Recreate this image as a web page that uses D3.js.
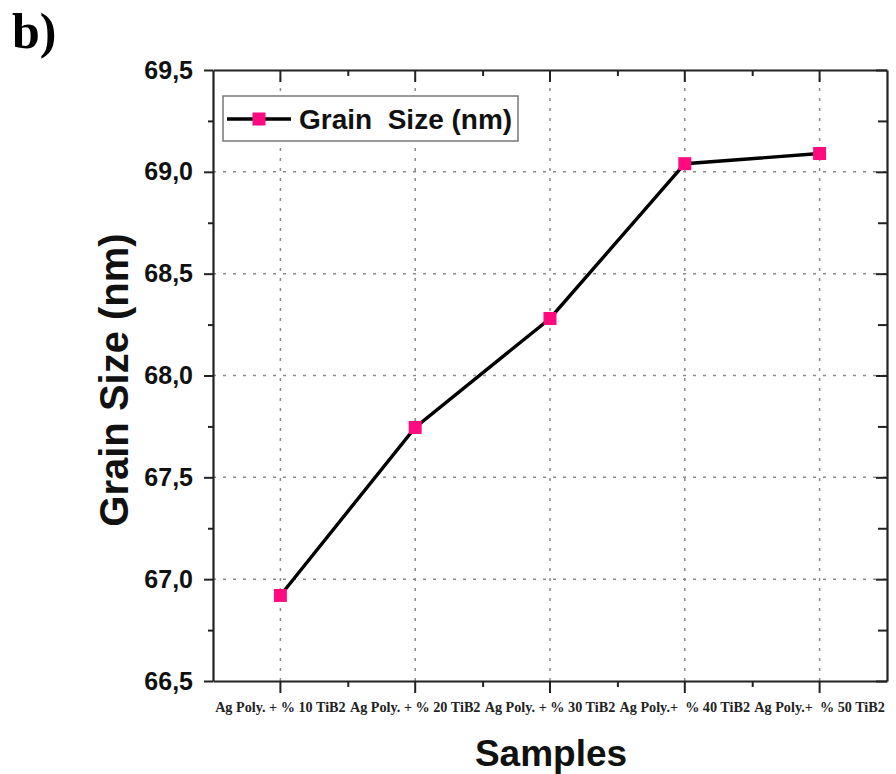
<!DOCTYPE html>
<html>
<head>
<meta charset="utf-8">
<script src="https://cdn.jsdelivr.net/npm/d3@7"></script>
<style>
  body { margin: 0; background: #fff; }
  svg { display: block; }
</style>
</head>
<body>
<svg id="chart"></svg>
<script>
// data
const samples = ["Ag Poly. + % 10 TiB2", "Ag Poly. + % 20 TiB2", "Ag Poly. + % 30 TiB2", "Ag Poly.+  % 40 TiB2", "Ag Poly.+  % 50 TiB2"];
const grainSize = [66.92, 67.745, 68.28, 69.04, 69.09];
const yTicks = [66.5, 67.0, 67.5, 68.0, 68.5, 69.0, 69.5];

const width = 896, height = 774;
const plotL = 213, plotR = 887, plotT = 70, plotB = 681;

const svg = d3.select("#chart").attr("width", width).attr("height", height);

const x = d3.scaleBand().domain(samples).range([plotL, plotR]);
const xc = d => x(d) + x.bandwidth() / 2;
const y = d3.scaleLinear().domain([66.5, 69.5]).range([plotB, plotT]);

const fmt = d => d3.format(".1f")(d).replace(".", ",");
const yMinor = yTicks.slice(0, -1).map(d => d + 0.25);
const xMinor = samples.slice(1).map(d => x(d));

// dotted grid
const grid = svg.append("g").attr("stroke", "#8a8a8a").attr("stroke-width", 1.5)
    .attr("stroke-dasharray", "3,7");
grid.selectAll(".gx").data(samples).enter().append("line")
    .attr("x1", xc).attr("x2", xc).attr("y1", plotB).attr("y2", plotT);
grid.selectAll(".gy").data(yTicks.slice(1, -1)).enter().append("line")
    .attr("x1", plotL).attr("x2", plotR).attr("y1", y).attr("y2", y);

// minor ticks (no domain line)
const minor = [
    svg.append("g").attr("transform", `translate(0,${plotB})`)
        .call(d3.axisBottom(d3.scaleIdentity()).tickValues(xMinor).tickSize(6).tickFormat("")),
    svg.append("g").attr("transform", `translate(0,${plotT})`)
        .call(d3.axisTop(d3.scaleIdentity()).tickValues(xMinor).tickSize(-6).tickFormat("")),
    svg.append("g").attr("transform", `translate(${plotL},0)`)
        .call(d3.axisLeft(y).tickValues(yMinor).tickSize(5).tickFormat("")),
    svg.append("g").attr("transform", `translate(${plotR},0)`)
        .call(d3.axisRight(y).tickValues(yMinor).tickSize(-9).tickFormat(""))
];
minor.forEach(g => g.select(".domain").remove());

// axes
const axisCol = "#222";
svg.append("g").attr("transform", `translate(0,${plotB})`)
    .call(d3.axisBottom(x).tickSize(12).tickSizeOuter(0).tickFormat(""));
svg.append("g").attr("transform", `translate(0,${plotT})`)
    .call(d3.axisTop(x).tickSize(-12).tickSizeOuter(0).tickFormat(""));
const leftAxis = svg.append("g").attr("transform", `translate(${plotL},0)`)
    .call(d3.axisLeft(y).tickValues(yTicks).tickSize(9).tickSizeOuter(0).tickFormat(fmt));
svg.append("g").attr("transform", `translate(${plotR},0)`)
    .call(d3.axisRight(y).tickValues(yTicks).tickSize(-11).tickSizeOuter(0).tickFormat(""));

svg.selectAll(".domain").attr("stroke", axisCol).attr("stroke-width", 2.2);
svg.selectAll(".tick line").attr("stroke", axisCol).attr("stroke-width", 2);

leftAxis.selectAll(".tick text")
    .attr("x", -20)
    .attr("font-family", "Liberation Sans, Arial, sans-serif")
    .attr("font-weight", "bold")
    .attr("font-size", 25)
    .attr("fill", "#111");

// category labels
svg.append("g").selectAll("text").data(samples).enter().append("text")
    .attr("x", xc).attr("y", 712)
    .attr("text-anchor", "middle")
    .attr("font-family", "Liberation Serif, Times New Roman, serif")
    .attr("font-weight", "bold")
    .attr("font-size", 14.2)
    .style("white-space", "pre")
    .attr("fill", "#222")
    .text(d => d);

// line + markers
const line = d3.line().x((d, i) => xc(samples[i])).y(d => y(d));
svg.append("path").datum(grainSize)
    .attr("d", line).attr("fill", "none").attr("stroke", "#000").attr("stroke-width", 3.4);
svg.selectAll(".pt").data(grainSize).enter().append("rect")
    .attr("x", (d, i) => xc(samples[i]) - 6.5).attr("y", d => y(d) - 6.5)
    .attr("width", 13).attr("height", 13).attr("fill", "#ff0a7f");

// legend
const lg = svg.append("g");
lg.append("rect").attr("x", 223).attr("y", 96).attr("width", 295).attr("height", 45)
    .attr("fill", "#fff").attr("stroke", "#777").attr("stroke-width", 1.5);
lg.append("line").attr("x1", 227).attr("x2", 291).attr("y1", 119).attr("y2", 119)
    .attr("stroke", "#000").attr("stroke-width", 3.4);
lg.append("rect").attr("x", 252.5).attr("y", 112.5).attr("width", 13).attr("height", 13).attr("fill", "#ff0a7f");
lg.append("text").attr("x", 299).attr("y", 129)
    .attr("font-family", "Liberation Sans, Arial, sans-serif")
    .attr("font-weight", "bold").attr("font-size", 28)
    .style("white-space", "pre")
    .attr("fill", "#111")
    .text("Grain  Size (nm)");

// axis titles
svg.append("text")
    .attr("transform", `translate(128,380) rotate(-90)`)
    .attr("text-anchor", "middle")
    .attr("font-family", "Liberation Sans, Arial, sans-serif")
    .attr("font-weight", "bold").attr("font-size", 40).attr("fill", "#111")
    .text("Grain Size (nm)");
svg.append("text")
    .attr("x", 551).attr("y", 766)
    .attr("text-anchor", "middle")
    .attr("font-family", "Liberation Sans, Arial, sans-serif")
    .attr("font-weight", "bold").attr("font-size", 37).attr("fill", "#111")
    .text("Samples");

// panel label
svg.append("text")
    .attr("x", 12).attr("y", 48)
    .attr("font-family", "Liberation Serif, Times New Roman, serif")
    .attr("font-weight", "bold").attr("font-size", 50).attr("fill", "#000")
    .text("b)");
</script>
</body>
</html>
